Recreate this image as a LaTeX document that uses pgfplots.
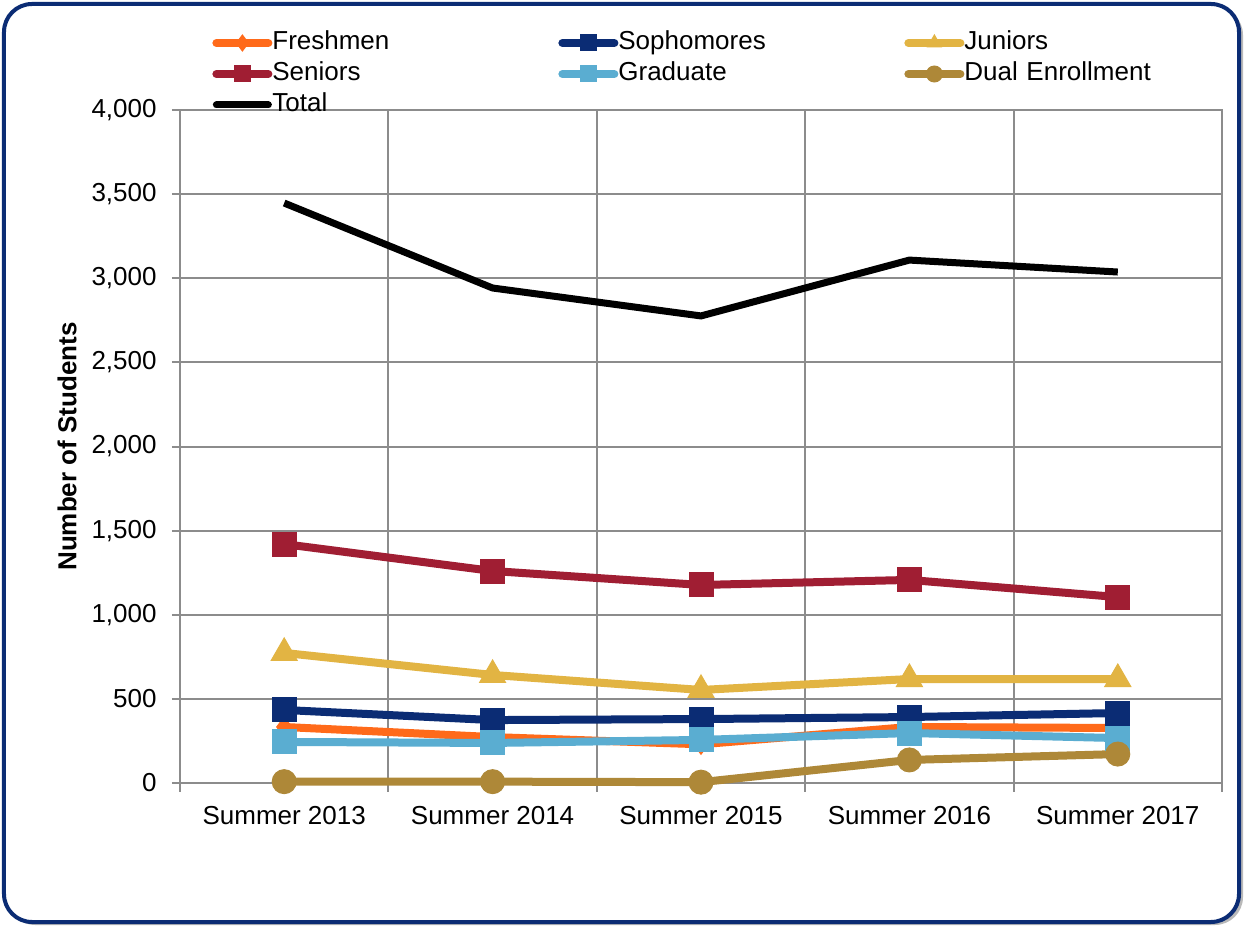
\documentclass[border=0pt]{standalone}
\usepackage{pgfplots}
\pgfplotsset{compat=1.18}
\usepackage{fontspec}
\setmainfont{Liberation Sans}
\definecolor{cFresh}{HTML}{FF6A1A}
\definecolor{cSoph}{HTML}{0B2C74}
\definecolor{cJun}{HTML}{E2B443}
\definecolor{cSen}{HTML}{A01E33}
\definecolor{cGrad}{HTML}{5AADD1}
\definecolor{cDual}{HTML}{AE8838}
\definecolor{cFrame}{HTML}{0B2C74}
\definecolor{cGrid}{HTML}{8C8C8C}
\begin{document}
\begin{tikzpicture}
\useasboundingbox (-90bp,-72.5bp) rectangle (532.5bp,391.5bp);
% frame with shadow
\fill[gray!55, rounded corners=14bp] (-86.5bp,-71bp) rectangle (531.5bp,388bp);
\draw[cFrame, line width=2bp, fill=white, rounded corners=14bp] (-88bp,-69.5bp) rectangle (529.5bp,389.5bp);
\begin{axis}[
  scale only axis, width=521bp, height=336.5bp,
  at={(0,0)}, anchor=south west,
  xmin=-0.5, xmax=4.5, ymin=0, ymax=4000,
  clip=false,
  xtick={0,1,2,3,4},
  xticklabels={Summer 2013,Summer 2014,Summer 2015,Summer 2016,Summer 2017},
  minor xtick={-0.5,0.5,1.5,2.5,3.5,4.5},
  major x tick style={draw=none},
  ytick={0,500,...,4000},
  ymajorgrids, xminorgrids,
  grid style={cGrid, line width=1bp},
  axis line style={cGrid, line width=1bp},
  tick style={cGrid, line width=1bp},
  tick align=outside, tick pos=left,
  major tick length=4bp, minor tick length=4.5bp,
  ticklabel style={font=\fontsize{13bp}{15bp}\selectfont},
  yticklabel style={inner sep=0pt, xshift=-7.5bp},
  xticklabel style={inner sep=0pt, yshift=-7.5bp},
  /pgf/number format/assume math mode=true,
  /pgf/number format/1000 sep={,},
  scaled y ticks=false,
  ylabel={Number of Students},
  every axis y label/.style={at={(axis description cs:-0.1084,0.5)}, anchor=center, rotate=90,
    font=\bfseries\fontsize{13bp}{15bp}\selectfont},
  legend columns=3,
  legend style={draw=none, fill=none, anchor=north west,
    at={(axis description cs:0.0307,1.118)},
    font=\fontsize{13bp}{15bp}\selectfont, inner sep=0pt, row sep=3.5bp,
    nodes={inner sep=0pt, text width=143bp, align=left, text height=9.5bp, text depth=2.5bp}},
  legend image code/.code={\draw[mark repeat=2, mark phase=2, line cap=round, mark size=4bp]
    plot coordinates {(0bp,0bp) (13bp,0bp) (26bp,0bp)};},
  every axis plot/.append style={line width=4bp},
]
\addplot[cFresh, mark=diamond*, mark size=5bp, mark options={line width=0.5bp, fill=cFresh}]
  coordinates {(0,333) (1,273) (2,230) (3,333) (4,327)};
\addlegendentry{Freshmen}
\addplot[cSoph, mark=square*, mark size=6bp, mark options={line width=0.5bp, fill=cSoph}]
  coordinates {(0,434) (1,374) (2,380) (3,392) (4,416)};
\addlegendentry{Sophomores}
\addplot[cJun, mark=triangle*, mark size=7.5bp, mark options={line width=0.5bp, fill=cJun}]
  coordinates {(0,773) (1,642) (2,553) (3,618) (4,618)};
\addlegendentry{Juniors}
\addplot[cSen, mark=square*, mark size=6bp, mark options={line width=0.5bp, fill=cSen}]
  coordinates {(0,1420) (1,1260) (2,1177) (3,1207) (4,1105)};
\addlegendentry{Seniors}
\addplot[cGrad, mark=square*, mark size=6bp, mark options={line width=0.5bp, fill=cGrad}]
  coordinates {(0,244) (1,238) (2,256) (3,297) (4,267)};
\addlegendentry{Graduate}
\addplot[cDual, mark=*, mark size=6bp, mark options={line width=0.5bp, fill=cDual}]
  coordinates {(0,8) (1,8) (2,5) (3,137) (4,172)};
\addlegendentry{Dual Enrollment}
\addplot[black, line width=3.5bp, no markers]
  coordinates {(0,3447) (1,2942) (2,2776) (3,3108) (4,3037)};
\addlegendentry{Total}
\end{axis}
\end{tikzpicture}
\end{document}
